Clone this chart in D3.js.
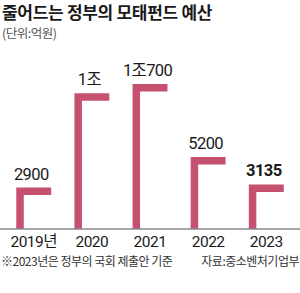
<!DOCTYPE html>
<html>
<head>
<meta charset="utf-8">
<script src="https://cdn.jsdelivr.net/npm/d3@7"></script>
<style>
  body { margin: 0; background: #fff; }
  svg { display: block; font-family: 'Noto Sans CJK KR', 'Noto Sans', sans-serif; }
</style>
</head>
<body>
<div id="chart"></div>
<script>
const years = ['2019', '2020', '2021', '2022', '2023']
const yearLabels = ['2019년', '2020', '2021', '2022', '2023']
const values = [2900, 10000, 10700, 5200, 3135]
const valueLabels = ['2900', '1조', '1조700', '5200', '3135']

const width = 300
const height = 293
const baseY = 229
const barColor = '#c5506f'
const numFont = "Roboto, 'Noto Sans CJK KR', sans-serif"

const svg = d3.select('#chart').append('svg')
  .attr('width', width)
  .attr('height', height)

svg.append('text')
  .attr('x', 2).attr('y', 19)
  .attr('font-size', 17).attr('font-weight', 700)
  .attr('fill', '#1a1a1a')
  .attr('letter-spacing', -0.3)
  .text('줄어드는 정부의 모태펀드 예산')

svg.append('text')
  .attr('x', 2).attr('y', 38)
  .attr('font-size', 12.5)
  .attr('fill', '#555')
  .attr('letter-spacing', -0.5)
  .text('(단위:억원)')

const x = d3.scaleBand()
  .domain(years)
  .range([0, width])
  .paddingInner(0.4)
  .paddingOuter(0.28)

const y = d3.scaleLinear()
  .domain([0, 10700])
  .range([226, 84])

const thick = 7.5
const rows = years.map((yr, i) => ({ yr, v: values[i], label: valueLabels[i], i }))

const bars = svg.append('g')
bars.selectAll('path')
  .data(rows)
  .join('path')
  .attr('fill', barColor)
  .attr('d', (d) => {
    const x0 = x(d.yr)
    const x1 = x0 + x.bandwidth()
    const top = y(d.v)
    return `M${x0},${baseY}V${top}H${x1}V${top + thick}H${x0 + thick}V${baseY}Z`
  })

svg.append('line')
  .attr('x1', 0).attr('x2', width)
  .attr('y1', baseY).attr('y2', baseY)
  .attr('stroke', '#8a8a8a')
  .attr('stroke-width', 1.5)

svg.append('g').selectAll('text')
  .data(rows)
  .join('text')
  .attr('x', (d) => x(d.yr) + x.bandwidth() * 0.43)
  .attr('y', (d) => y(d.v) - 8)
  .attr('text-anchor', 'middle')
  .attr('font-family', numFont)
  .attr('font-size', 16.5)
  .attr('letter-spacing', -0.6)
  .attr('font-weight', (d) => (d.i === 4 ? 700 : 400))
  .attr('fill', '#1a1a1a')
  .text((d) => d.label)

const xAxis = d3.axisBottom(x).tickSize(0).tickFormat((d, i) => yearLabels[i])
const xAxisG = svg.append('g')
  .attr('transform', `translate(0,${baseY})`)
  .call(xAxis)
xAxisG.select('.domain').remove()
xAxisG.selectAll('text')
  .attr('dy', 0)
  .attr('y', 18)
  .attr('font-size', 15.5)
  .attr('letter-spacing', -0.5)
  .attr('font-family', numFont)
  .attr('fill', '#1a1a1a')

svg.append('text')
  .attr('x', 1).attr('y', 266)
  .attr('font-size', 12)
  .attr('fill', '#333')
  .attr('letter-spacing', -0.5)
  .text('※2023년은 정부의 국회 제출안 기준')

svg.append('text')
  .attr('x', 299).attr('y', 266)
  .attr('text-anchor', 'end')
  .attr('font-size', 12)
  .attr('fill', '#333')
  .attr('letter-spacing', -0.5)
  .text('자료:중소벤처기업부')
</script>
</body>
</html>
